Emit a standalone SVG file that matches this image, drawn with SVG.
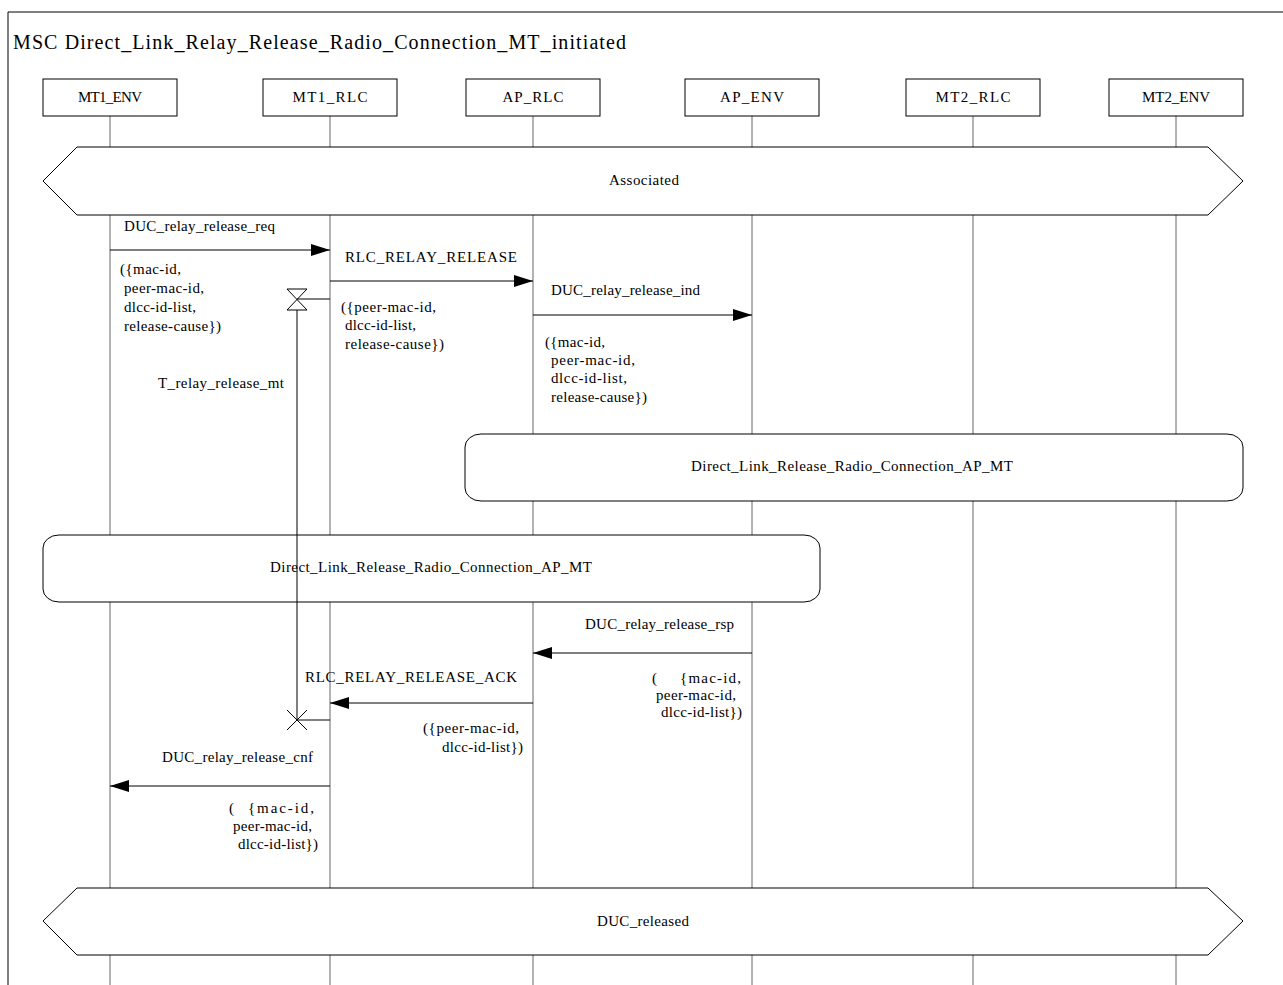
<svg xmlns="http://www.w3.org/2000/svg" width="1283" height="985" viewBox="0 0 1283 985">
<style>
text{font-family:"Liberation Serif","Times New Roman",serif;font-size:15px;fill:#000}
.title{font-size:20px}
.life{stroke:#666;stroke-width:1;fill:none}
.box{fill:#fff;stroke:#000;stroke-width:1}
.msg{stroke:#000;stroke-width:1;fill:none}
.mid{text-anchor:middle}
</style>
<defs>
<marker id="ah" markerUnits="userSpaceOnUse" markerWidth="20" markerHeight="14" refX="19" refY="6" orient="auto">
<path d="M0,0 L19,6 L0,12 Z" fill="#000"/>
</marker>
</defs>
<rect width="1283" height="985" fill="#fff"/>
<path d="M8,985 V12 H1283" fill="none" stroke="#000" stroke-width="1"/>
<text class="title" x="13" y="49" textLength="613">MSC Direct_Link_Relay_Release_Radio_Connection_MT_initiated</text>

<g id="lifelines">
<line class="life" x1="110" y1="116" x2="110" y2="985"/>
<line class="life" x1="330" y1="116" x2="330" y2="985"/>
<line class="life" x1="533" y1="116" x2="533" y2="985"/>
<line class="life" x1="752" y1="116" x2="752" y2="985"/>
<line class="life" x1="973" y1="116" x2="973" y2="985"/>
<line class="life" x1="1176" y1="116" x2="1176" y2="985"/>
</g>

<g id="MT1_ENV"><rect class="box" x="43" y="79" width="134" height="37"/><text class="mid" x="110" y="102" textLength="64">MT1_ENV</text></g>
<g id="MT1_RLC"><rect class="box" x="263" y="79" width="134" height="37"/><text class="mid" x="330" y="102" textLength="75">MT1_RLC</text></g>
<g id="AP_RLC"><rect class="box" x="466" y="79" width="134" height="37"/><text class="mid" x="533" y="102" textLength="61">AP_RLC</text></g>
<g id="AP_ENV"><rect class="box" x="685" y="79" width="134" height="37"/><text class="mid" x="752" y="102" textLength="64">AP_ENV</text></g>
<g id="MT2_RLC"><rect class="box" x="906" y="79" width="134" height="37"/><text class="mid" x="973" y="102" textLength="75">MT2_RLC</text></g>
<g id="MT2_ENV"><rect class="box" x="1109" y="79" width="134" height="37"/><text class="mid" x="1176" y="102" textLength="68">MT2_ENV</text></g>

<g id="Associated"><polygon class="box" points="43,181 77,147 1208,147 1243,181 1208,215 77,215"/><text class="mid" x="644" y="185" textLength="70">Associated</text></g>

<g id="ref1"><rect class="box" x="465" y="434" width="778" height="67" rx="16" ry="13"/><text class="mid" x="852" y="471" textLength="322">Direct_Link_Release_Radio_Connection_AP_MT</text></g>
<g id="ref2"><rect class="box" x="43" y="535" width="777" height="67" rx="16" ry="13"/><text class="mid" x="431" y="572" textLength="322">Direct_Link_Release_Radio_Connection_AP_MT</text></g>

<g id="DUC_released"><polygon class="box" points="43,921 77,888 1208,888 1243,921 1208,955 77,955"/><text class="mid" x="643" y="926" textLength="92">DUC_released</text></g>

<g id="timer">
<path class="msg" d="M287,289 H307 L287,310 H307 Z"/>
<line class="msg" x1="297" y1="299" x2="330" y2="299"/>
<line class="msg" x1="297" y1="310" x2="297" y2="720"/>
<path class="msg" d="M287,710 L307,730 M307,710 L287,730"/>
<line class="msg" x1="297" y1="720" x2="330" y2="720"/>
<text x="158" y="388" textLength="126">T_relay_release_mt</text>
</g>

<g id="connectors">
<line class="msg" x1="110" y1="250" x2="330" y2="250" marker-end="url(#ah)"/>
<line class="msg" x1="330" y1="281" x2="533" y2="281" marker-end="url(#ah)"/>
<line class="msg" x1="533" y1="315" x2="752" y2="315" marker-end="url(#ah)"/>
<line class="msg" x1="752" y1="653" x2="533" y2="653" marker-end="url(#ah)"/>
<line class="msg" x1="533" y1="703" x2="330" y2="703" marker-end="url(#ah)"/>
<line class="msg" x1="330" y1="786" x2="110" y2="786" marker-end="url(#ah)"/>
</g>

<g id="labels">
<text x="124" y="231" textLength="151">DUC_relay_release_req</text>
<text x="120" y="274" textLength="61">({mac-id,</text>
<text x="124" y="293" textLength="80">peer-mac-id,</text>
<text x="124" y="312" textLength="72">dlcc-id-list,</text>
<text x="124" y="331" textLength="97">release-cause})</text>

<text x="345" y="262" textLength="172">RLC_RELAY_RELEASE</text>
<text x="341" y="312" textLength="95">({peer-mac-id,</text>
<text x="345" y="330" textLength="71">dlcc-id-list,</text>
<text x="345" y="349" textLength="99">release-cause})</text>

<text x="551" y="295" textLength="149">DUC_relay_release_ind</text>
<text x="545" y="347" textLength="60">({mac-id,</text>
<text x="551" y="365" textLength="84">peer-mac-id,</text>
<text x="551" y="383" textLength="76">dlcc-id-list,</text>
<text x="551" y="402" textLength="96">release-cause})</text>

<text x="585" y="629" textLength="149">DUC_relay_release_rsp</text>
<text x="652" y="683">(</text>
<text x="680" y="683" textLength="61">{mac-id,</text>
<text x="656" y="700" textLength="80">peer-mac-id,</text>
<text x="661" y="717" textLength="81">dlcc-id-list})</text>

<text x="305" y="682" textLength="212">RLC_RELAY_RELEASE_ACK</text>
<text x="423" y="733" textLength="96">({peer-mac-id,</text>
<text x="442" y="752" textLength="81">dlcc-id-list})</text>

<text x="162" y="762" textLength="151">DUC_relay_release_cnf</text>
<text x="229" y="813">(</text>
<text x="248" y="813" textLength="66">{mac-id,</text>
<text x="233" y="831" textLength="79">peer-mac-id,</text>
<text x="238" y="849" textLength="80">dlcc-id-list})</text>
</g>
</svg>
